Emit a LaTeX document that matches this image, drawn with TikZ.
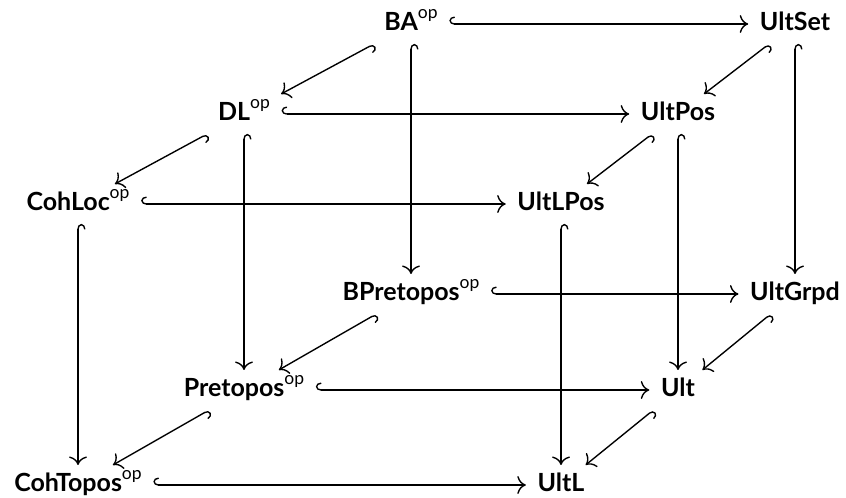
\documentclass[tikz,border=0pt]{standalone}
\usepackage{fontspec}
\setmainfont{Lato}
\usetikzlibrary{cd}
\newcommand\opsup{\raisebox{0.5em}{\fontsize{7}{8}\selectfont\mdseries op}}
\begin{document}
\begin{tikzpicture}[x=0.4pt,y=-0.4pt,
  obj/.style={font=\bfseries, anchor=base, inner xsep=4.5pt, inner ysep=2pt,
              text height=8.6pt, text depth=3pt},
  inc/.style={{tikzcd right hook}-{tikzcd to}, line width=0.55pt}]
\useasboundingbox (0,0) rectangle (846,498);

% back face
\node[obj] (ba)   at (411,31)  {BA\opsup};
\node[obj] (uset) at (795,31)  {UltSet};
\node[obj] (bpre) at (411,301) {BPretopos\opsup};
\node[obj] (ugrp) at (795,301) {UltGrpd};
% middle layer
\node[obj] (dl)   at (244,121) {DL\opsup};
\node[obj] (upos) at (678,121) {UltPos};
\node[obj] (pre)  at (244,397) {Pretopos\opsup};
\node[obj] (ult)  at (678,397) {Ult};
% front face
\node[obj] (cloc) at (78,211)  {CohLoc\opsup};
\node[obj] (ulp)  at (561,211) {UltLPos};
\node[obj] (ctop) at (78,492)  {CohTopos\opsup};
\node[obj] (ultl) at (561,492) {UltL};

% horizontal inclusions
\draw[inc] (ba) -- (uset);
\draw[inc] (dl) -- (upos);
\draw[inc] (cloc) -- (ulp);
\draw[inc] (bpre) -- (ugrp);
\draw[inc] (pre) -- (ult);
\draw[inc] (ctop) -- (ultl);
% diagonal inclusions
\draw[inc] (ba) -- (dl);
\draw[inc] (dl) -- (cloc);
\draw[inc] (uset) -- (upos);
\draw[inc] (upos) -- (ulp);
\draw[inc] (bpre) -- (pre);
\draw[inc] (pre) -- (ctop);
\draw[inc] (ugrp) -- (ult);
\draw[inc] (ult) -- (ultl);
% vertical inclusions
\draw[inc] (ba) -- (bpre);
\draw[inc] (dl) -- (pre);
\draw[inc] (cloc) -- (ctop);
\draw[inc] (uset) -- (ugrp);
\draw[inc] (upos) -- (ult);
\draw[inc] (ulp) -- (ultl);
\end{tikzpicture}
\end{document}
